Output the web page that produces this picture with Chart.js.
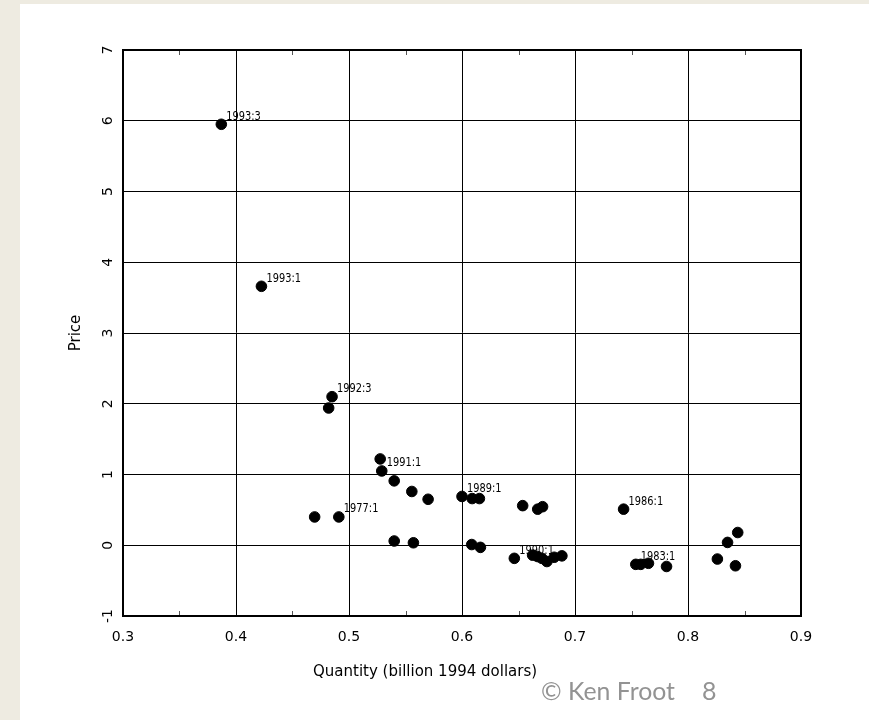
<!DOCTYPE html>
<html>
<head>
<meta charset="utf-8">
<script src="https://cdn.jsdelivr.net/npm/chart.js@4/dist/chart.umd.min.js"></script>
<style>
  html, body { margin: 0; padding: 0; }
  body { width: 869px; height: 720px; background: #eeebe1; position: relative; overflow: hidden; }
  #panel { position: absolute; left: 20px; top: 4px; right: 0; bottom: 0; background: #fff; }
  #c { position: absolute; left: 0; top: 0; }
</style>
</head>
<body>
<div id="panel"></div>
<canvas id="c" width="869" height="720"></canvas>
<script>
// quantity (billion 1994 dollars) vs price, one point per quarter
const quantity = [
  0.387, 0.4225, 0.485, 0.482, 0.5276, 0.529, 0.540, 0.5556, 0.570,
  0.600, 0.609, 0.6154, 0.491, 0.4696, 0.540, 0.557, 0.6086, 0.6163,
  0.6537, 0.667, 0.6713, 0.743, 0.6463, 0.6625, 0.6669, 0.6707, 0.6751,
  0.6816, 0.6884, 0.7538, 0.7582, 0.765, 0.781, 0.826, 0.835, 0.844, 0.842
];
const price = [
  5.95, 3.66, 2.10, 1.94, 1.22, 1.05, 0.91, 0.76, 0.65,
  0.69, 0.66, 0.66, 0.40, 0.40, 0.06, 0.035, 0.01, -0.03,
  0.56, 0.51, 0.545, 0.51, -0.185, -0.14, -0.16, -0.185, -0.23,
  -0.17, -0.15, -0.27, -0.27, -0.255, -0.30, -0.195, 0.04, 0.18, -0.29
];
const pointLabels = [
  "1993:3", "1993:1", "1992:3", "", "", "1991:1", "", "", "",
  "1989:1", "", "", "1977:1", "", "", "", "", "",
  "", "", "", "1986:1", "1990:1", "", "", "", "",
  "", "", "1983:1", "", "", "", "", "", "", ""
];
const xTitle = "Quantity (billion 1994 dollars)";
const yTitle = "Price";
const footer = "\u00A9 Ken Froot";
const pageNo = "8";

const axisFont = "DejaVu Sans";

const framePlugin = {
  id: "frame",
  afterDatasetsDraw(chart) {
    const { ctx, chartArea: a, scales } = chart;
    ctx.save();
    // minor ticks on top and bottom, halfway between labelled ticks
    ctx.strokeStyle = "#555";
    ctx.lineWidth = 1;
    for (let i = 0; i < 6; i++) {
      const px = Math.round(scales.x.getPixelForValue(0.35 + 0.1 * i)) + 0.5;
      ctx.beginPath();
      ctx.moveTo(px, a.bottom); ctx.lineTo(px, a.bottom - 5);
      ctx.moveTo(px, a.top); ctx.lineTo(px, a.top + 5);
      ctx.stroke();
    }
    ctx.strokeStyle = "#000";
    ctx.lineWidth = 2;
    ctx.strokeRect(a.left, a.top, a.right - a.left, a.bottom - a.top);

    // point labels (tall, narrow like the original plot font)
    const meta = chart.getDatasetMeta(0);
    ctx.fillStyle = "#000";
    ctx.font = "13px 'DejaVu Sans Condensed', 'DejaVu Sans'";
    ctx.textAlign = "left";
    ctx.textBaseline = "middle";
    meta.data.forEach((el, i) => {
      const t = pointLabels[i];
      if (!t) return;
      const w = ctx.measureText(t).width;
      ctx.fillText(t, el.x + 5, el.y - 8, w * 0.84);
    });

    // x axis title
    ctx.font = "15px " + axisFont;
    ctx.textBaseline = "alphabetic";
    ctx.fillText(xTitle, 313, 676, 233);

    // footer
    ctx.fillStyle = "#939393";
    ctx.font = "25px Lato";
    ctx.fillText(footer, 541, 700, 134);
    ctx.fillText(pageNo, 702, 700);
    ctx.restore();
  }
};

new Chart(document.getElementById("c"), {
  type: "scatter",
  data: {
    datasets: [{
      data: quantity.map((q, i) => ({ x: q, y: price[i] })),
      backgroundColor: "#000",
      borderColor: "#000",
      pointRadius: 5.3,
      pointHoverRadius: 5.3
    }]
  },
  options: {
    responsive: false,
    animation: false,
    events: [],
    layout: { padding: { left: 20, top: 50, right: 68, bottom: 0 } },
    plugins: { legend: { display: false }, tooltip: { enabled: false } },
    scales: {
      x: {
        type: "linear",
        min: 0.3,
        max: 0.9,
        ticks: {
          stepSize: 0.1,
          color: "#000",
          font: { family: axisFont, size: 14 },
          padding: 13,
          callback: v => v.toFixed(1)
        },
        grid: { color: "#000", lineWidth: 1, drawTicks: false },
        border: { color: "#000", width: 2 },
        afterFit: s => { s.height = 104; }
      },
      y: {
        type: "linear",
        min: -1,
        max: 7,
        ticks: {
          stepSize: 1,
          color: "#000",
          font: { family: axisFont, size: 14 },
          minRotation: 90,
          maxRotation: 90,
          crossAlign: "center",
          padding: 8
        },
        grid: { color: "#000", lineWidth: 1, drawTicks: false },
        border: { color: "#000", width: 2 },
        title: {
          display: true,
          text: yTitle,
          color: "#000",
          font: { family: axisFont, size: 15 },
          padding: { top: 47, bottom: 0 }
        },
        afterFit: s => { s.width = 103; }
      }
    }
  },
  plugins: [framePlugin]
});
</script>
</body>
</html>
